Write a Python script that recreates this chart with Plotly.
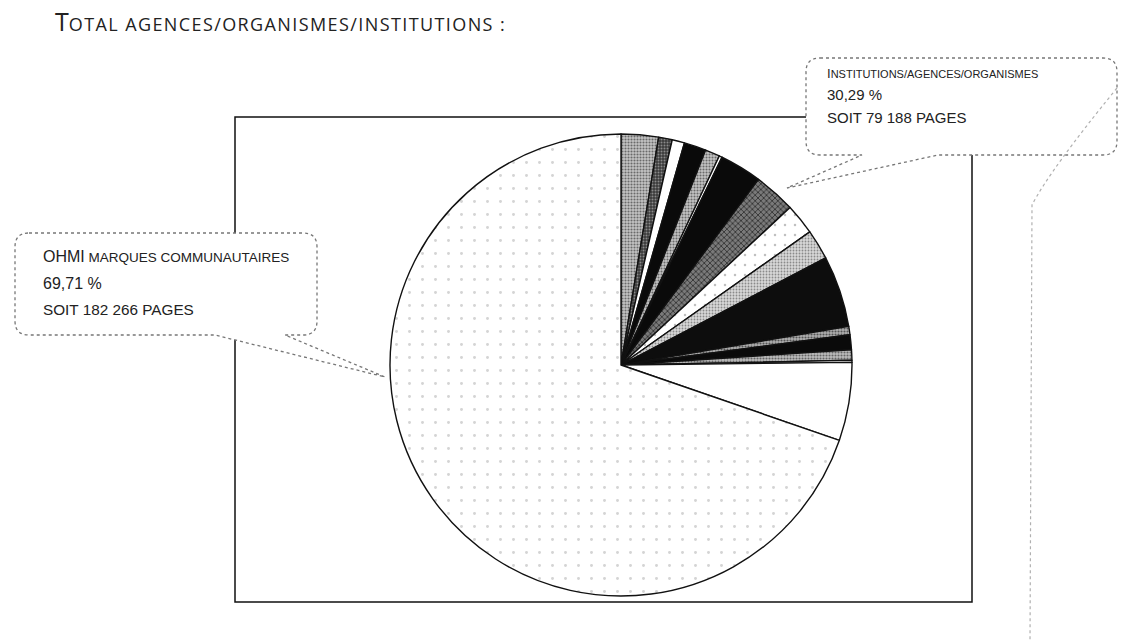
import plotly.graph_objects as go

W, H = 1122, 642

# ---- data (pages) ----
slice_labels = [
    "Institution/agence 1", "Institution/agence 2", "Institution/agence 3",
    "Institution/agence 4", "Institution/agence 5", "Institution/agence 6",
    "Institution/agence 7", "Institution/agence 8", "Institution/agence 9",
    "Institution/agence 10", "Institution/agence 11", "Institution/agence 12",
    "Institution/agence 13", "Institution/agence 14", "Institution/agence 15",
    "Institution/agence 16", "OHMI marques communautaires",
]
slice_pages = [6820, 2490, 2270, 4030, 2680, 540, 7700, 7630, 5650, 5500,
               13050, 1540, 2710, 1910, 370, 14298, 182266]

title_first = "T"
title_rest = "OTAL AGENCES/ORGANISMES/INSTITUTIONS :"
left_head, left_tail = "OHMI", " MARQUES COMMUNAUTAIRES"
left_pct = "69,71 %"
left_pages = "SOIT 182 266 PAGES"
right_head, right_tail = "I", "NSTITUTIONS/AGENCES/ORGANISMES"
right_pct = "30,29 %"
right_pages = "SOIT 79 188 PAGES"

# ---- styles ----
bg = ["#c4c4c4", "#3a3a3a", "#ffffff", "#0a0a0a", "#c4c4c4", "#ffffff",
      "#0a0a0a", "#7a7a7a", "#ffffff", "#d8d8d8", "#0d0d0d", "#b0b0b0",
      "#0a0a0a", "#bdbdbd", "#ffffff", "#ffffff", "#ffffff"]
pshape = [".", ".", "", "", ".", "", "", "x", ".", ".", "", ".", "", ".", "", "", "."]
pfg = ["#6a6a6a", "#8a8a8a", "#000", "#000", "#6a6a6a", "#000", "#000", "#1a1a1a",
       "#c0c0c0", "#8a8a8a", "#000", "#555555", "#000", "#666666", "#000", "#000",
       "#d4d4d4"]
psize = [3, 3, 8, 8, 3, 8, 8, 4, 10, 3, 8, 3, 8, 3, 8, 8, 13]
psol = [0.4, 0.35, 0.1, 0.1, 0.4, 0.1, 0.1, 0.3, 0.05, 0.3, 0.1, 0.4, 0.1, 0.4,
        0.1, 0.1, 0.04]

cx, cy, R = 621, 365, 231

fig = go.Figure()
fig.add_trace(go.Pie(
    labels=slice_labels, values=slice_pages, sort=False, direction="clockwise",
    rotation=0, textinfo="none", showlegend=False, hoverinfo="label+value+percent",
    marker=dict(colors=bg, line=dict(color="#111111", width=1.4),
                pattern=dict(shape=pshape, fgcolor=pfg, bgcolor=bg, size=psize,
                             solidity=psol)),
    domain=dict(x=[(cx - R) / W, (cx + R) / W],
                y=[(H - cy - R) / H, (H - cy + R) / H]),
))


def px(x):
    return x / W


def py(y):
    return 1 - y / H


def path(pts):
    out = []
    for p in pts:
        if p[0] == "Z":
            out.append("Z")
        elif p[0] == "Q":
            out.append(f"Q {px(p[1]):.5f},{py(p[2]):.5f} {px(p[3]):.5f},{py(p[4]):.5f}")
        else:
            out.append(f"{p[0]} {px(p[1]):.5f},{py(p[2]):.5f}")
    return " ".join(out)


def bubble(x0, y0, x1, y1, r, tail):
    pts = [("M", x0 + r, y0), ("L", x1 - r, y0), ("Q", x1, y0, x1, y0 + r),
           ("L", x1, y1 - r), ("Q", x1, y1, x1 - r, y1)]
    pts += tail
    pts += [("L", x0 + r, y1), ("Q", x0, y1, x0, y1 - r), ("L", x0, y0 + r),
            ("Q", x0, y0, x0 + r, y0), ("Z",)]
    return path(pts)


shapes = []
shapes.append(dict(type="rect", xref="paper", yref="paper", x0=px(235), x1=px(972),
                   y0=py(602), y1=py(117), line=dict(color="#111", width=1.5),
                   layer="below"))
dot = dict(color="#777777", width=1.3, dash="dot")
shapes.append(dict(type="path", xref="paper", yref="paper",
                   path=bubble(15, 233, 317, 335, 14,
                               [("L", 285, 335), ("L", 385, 377), ("L", 215, 335)]),
                   line=dot, fillcolor="white", layer="above"))
shapes.append(dict(type="path", xref="paper", yref="paper",
                   path=bubble(806, 58, 1117, 155, 14,
                               [("L", 938, 155), ("L", 787, 188), ("L", 862, 155)]),
                   line=dot, fillcolor="white", layer="above"))
shapes.append(dict(type="path", xref="paper", yref="paper",
                   path=path([("M", 1117, 88), ("Q", 1050, 170, 1032, 205),
                              ("L", 1030, 642)]),
                   line=dict(color="#b0b0b0", width=1.2, dash="dot"), layer="above"))

fnt = "Liberation Sans, Arial, sans-serif"


def sc(big, rest, small, extra=""):
    return big + '<span style="font-size:%spx%s">%s</span>' % (small, extra, rest)


annotations = [dict(
    xref="paper", yref="paper", x=px(53), y=py(40), xanchor="left", yanchor="bottom",
    showarrow=False, align="left",
    text=sc(title_first, title_rest, 18, ";letter-spacing:1.4px"),
    font=dict(family="Open Sans, sans-serif", size=25, color="#222"))]

for t, yb, s in zip([sc(left_head, left_tail, 13.5), left_pct, left_pages],
                    [260, 287, 313], [16, 16, 15.3]):
    annotations.append(dict(xref="paper", yref="paper", x=px(41), y=py(yb - 4),
                            xanchor="left", yanchor="middle", showarrow=False,
                            text=t, font=dict(family=fnt, size=s, color="#222")))
for t, yb, s in zip([sc(right_head, right_tail, 11), right_pct, right_pages],
                    [78, 100, 123], [13, 15, 15]):
    annotations.append(dict(xref="paper", yref="paper", x=px(825), y=py(yb - 0.37 * s),
                            xanchor="left", yanchor="middle", showarrow=False,
                            text=t, font=dict(family=fnt, size=s, color="#222")))

fig.update_layout(width=W, height=H, margin=dict(l=0, r=0, t=0, b=0),
                  paper_bgcolor="white", plot_bgcolor="white",
                  shapes=shapes, annotations=annotations)
fig.write_html("out.html")
